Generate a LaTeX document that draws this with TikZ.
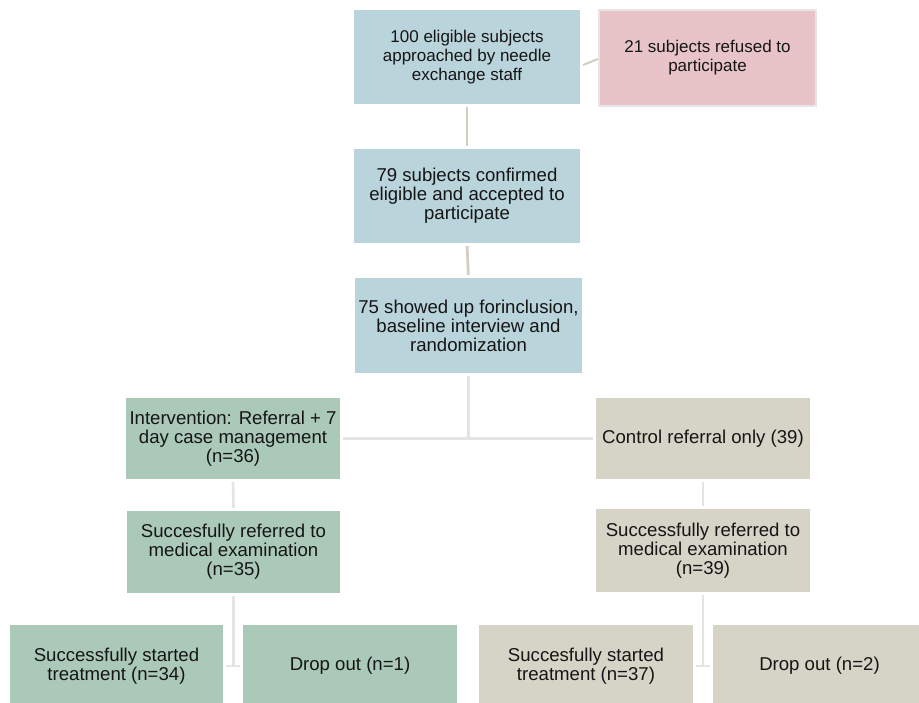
\documentclass[tikz,border=0pt]{standalone}
\usepackage{fontspec}
\setmainfont{Liberation Sans}
\usetikzlibrary{arrows.meta}
\definecolor{boxblue}{HTML}{BAD4DC}
\definecolor{boxpink}{HTML}{E8C4C8}
\definecolor{pinkedge}{HTML}{E6E6E6}
\definecolor{boxgreen}{HTML}{ABC9B8}
\definecolor{boxtan}{HTML}{D6D4C7}
\definecolor{linkgray}{HTML}{E4E4E4}
\definecolor{tanline}{HTML}{D3CDC2}
\definecolor{textdark}{HTML}{151515}
\tikzset{
  box/.style={inner sep=0pt, outer sep=0pt, align=center, text=textdark,
    font=\fontsize{18.6}{19}\selectfont},
  smallfont/.style={font=\fontsize{17}{18.8}\selectfont},
  bluebox/.style={box, fill=boxblue},
  pinkbox/.style={box, fill=boxpink, draw=pinkedge, line width=2.5pt},
  greenbox/.style={box, fill=boxgreen},
  tanbox/.style={box, fill=boxtan},
  link/.style={draw=linkgray, line width=2.7pt, shorten >=3pt, shorten <=3pt},
  toplink/.style={link, draw=tanline}
}
\begin{document}
\begin{tikzpicture}[x=1pt,y=-1pt]
\useasboundingbox (0,0) rectangle (919,703);
\clip (0,0) rectangle (919,703);
% top
\node[bluebox, smallfont, minimum width=226pt, minimum height=94pt] (A) at (467,57)
  {100 eligible subjects\\approached by needle\\exchange staff};
\node[pinkbox, smallfont, minimum width=217pt, minimum height=96pt] (R) at (707.5,58)
  {21 subjects refused to\\participate};
\node[bluebox, minimum width=226pt, minimum height=94pt] (B) at (467,196)
  {79 subjects confirmed\\eligible and accepted to\\participate};
\node[bluebox, minimum width=227pt, minimum height=95pt] (C) at (468.5,325.5)
  {75 showed up forinclusion,\\baseline interview and\\randomization};
% arms
\node[greenbox, minimum width=214pt, minimum height=81pt] (I) at (233,438.5)
  {Intervention: Referral + 7\\day case management\\(n=36)};
\node[tanbox, minimum width=214pt, minimum height=81pt] (K) at (703,438.5)
  {Control referral only (39)};
\node[greenbox, minimum width=213pt, minimum height=82pt] (S1) at (233.5,552)
  {Succesfully referred to\\medical examination\\(n=35)};
\node[tanbox, minimum width=214pt, minimum height=83pt] (S2) at (703,550.5)
  {Successfully referred to\\medical examination\\(n=39)};
% bottom
\node[greenbox, minimum width=213pt, minimum height=82pt] (T1) at (116.5,666)
  {Successfully started\\treatment (n=34)};
\node[greenbox, minimum width=214pt, minimum height=82pt] (D1) at (350,666)
  {Drop out (n=1)};
\node[tanbox, minimum width=214pt, minimum height=82pt] (T2) at (586,666)
  {Succesfully started\\treatment (n=37)};
\node[tanbox, minimum width=213pt, minimum height=82pt] (D2) at (819.5,666)
  {Drop out (n=2)};
% connectors
\draw[toplink, line width=2pt, shorten <=0pt, shorten >=0pt]
  ([shift={(3pt,-8pt)}]A.east) -- ([shift={(-1pt,-1pt)}]R.west);
\draw[toplink] (A.south) -- (B.north);
\draw[toplink] (B.south) -- (C.north);
\coordinate (j0) at (C.south |- I.east);
\draw[link, shorten >=-1.3pt] (C.south) -- (j0);
\draw[link] (I.east) -- (K.west);
\draw[link] (I.south) -- (S1.north);
\draw[link] (K.south) -- (S2.north);
\coordinate (j1) at (S1.south |- T1.east);
\coordinate (j2) at (S2.south |- T2.east);
\draw[link, shorten >=-1.3pt] (S1.south) -- (j1);
\draw[link] (T1.east) -- (D1.west);
\draw[link, shorten >=-1.3pt] (S2.south) -- (j2);
\draw[link] (T2.east) -- (D2.west);
\end{tikzpicture}
\end{document}
